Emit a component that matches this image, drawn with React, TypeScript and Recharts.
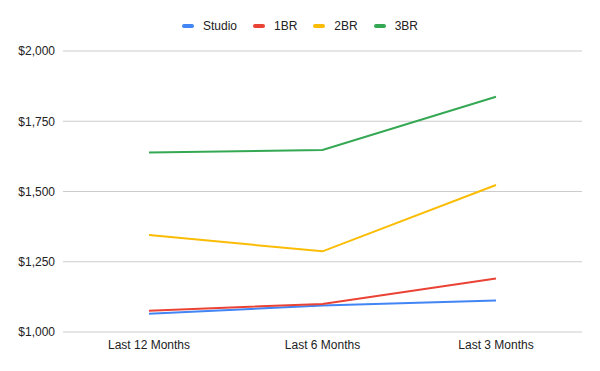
import { LineChart, Line, XAxis, YAxis, CartesianGrid } from 'recharts'

const periods = ['Last 12 Months', 'Last 6 Months', 'Last 3 Months']
const studio = [1065, 1094, 1112]
const oneBr = [1076, 1100, 1190]
const twoBr = [1345, 1287, 1523]
const threeBr = [1639, 1648, 1837]
const yTicks = [1000, 1250, 1500, 1750, 2000]

const series = [
  { key: 'studio', name: 'Studio', color: '#4285f4' },
  { key: 'oneBr', name: '1BR', color: '#ea4335' },
  { key: 'twoBr', name: '2BR', color: '#fbbc04' },
  { key: 'threeBr', name: '3BR', color: '#34a853' },
]

const data = periods.map((p, i) => ({
  period: p,
  studio: studio[i],
  oneBr: oneBr[i],
  twoBr: twoBr[i],
  threeBr: threeBr[i],
}))

const font = '"Liberation Sans", Arial, sans-serif'

export default function App() {
  return (
    <div style={{ position: 'absolute', left: 0, top: 0, width: 600, height: 371, background: '#fff', fontFamily: font }}>
      {/* legend, drawn as html so it doesn't shift the plot area */}
      <div style={{ position: 'absolute', left: 0, top: 17, width: 600, display: 'flex', justifyContent: 'center', alignItems: 'center', gap: 16, height: 17 }}>
        {series.map(s => (
          <div key={s.key} style={{ display: 'flex', alignItems: 'center' }}>
            <span style={{ display: 'inline-block', width: 12, height: 4, borderRadius: 2, background: s.color, marginRight: 9 }} />
            <span style={{ fontSize: 12, color: '#222' }}>{s.name}</span>
          </div>
        ))}
      </div>
      <LineChart width={600} height={371} data={data} margin={{ top: 51, right: 18, bottom: 9, left: 0 }}>
        <CartesianGrid vertical={false} stroke="#cccccc" />
        <XAxis
          dataKey="period"
          tick={{ fontSize: 12, fill: '#222', fontFamily: font }}
          tickLine={false}
          axisLine={false}
          padding={{ left: 86, right: 86 }}
          height={30}
        />
        <YAxis
          domain={[1000, 2000]}
          ticks={yTicks}
          tick={{ fontSize: 12, fill: '#222', fontFamily: font }}
          tickLine={false}
          axisLine={false}
          tickFormatter={v => `$${v.toLocaleString('en-US')}`}
          width={63}
        />
        {series.map(s => (
          <Line
            key={s.key}
            type="linear"
            dataKey={s.key}
            name={s.name}
            stroke={s.color}
            strokeWidth={2}
            dot={false}
            isAnimationActive={false}
          />
        ))}
      </LineChart>
    </div>
  )
}
